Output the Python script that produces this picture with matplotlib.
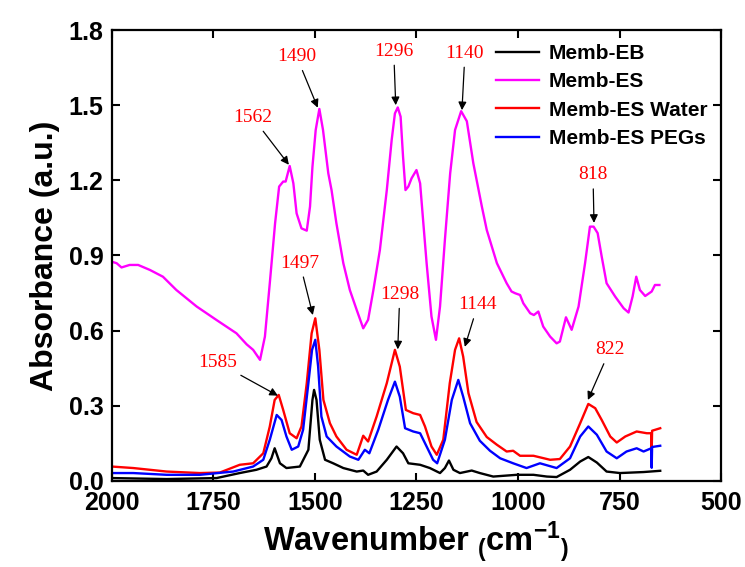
import matplotlib
matplotlib.use("Agg")
import matplotlib.pyplot as plt

# ---------------- data ----------------
wn_eb = [2000,1865,1742,1685,1644,1619,1607,1599,1586,1570,1537,1516,1506,1502,1496,1488,1475,1455,1430,1397,
         1381,1369,1348,1323,1299,1283,1270,1241,1217,1192,1180,1170,1159,1143,1114,1094,1061,1003,962,929,
         905,872,847,827,806,782,749,691,650]
ab_eb = [0.011,0.007,0.011,0.031,0.044,0.057,0.09,0.13,0.07,0.051,0.057,0.124,0.323,0.363,0.323,0.164,0.084,0.07,0.051,0.037,
         0.041,0.024,0.037,0.084,0.137,0.11,0.07,0.064,0.051,0.031,0.051,0.081,0.044,0.031,0.041,0.031,0.017,0.024,0.024,0.017,
         0.015,0.044,0.077,0.095,0.073,0.037,0.031,0.035,0.04]

wn_es = [2000,1988,1976,1956,1935,1906,1874,1841,1791,1742,1693,1668,1652,1635,1623,1611,1598,1588,1578,1572,
         1562,1553,1545,1533,1520,1512,1506,1498,1489,1480,1467,1459,1447,1430,1414,1397,1381,1369,1356,1340,
         1323,1311,1303,1296,1289,1283,1277,1270,1262,1250,1241,1233,1225,1213,1202,1192,1180,1167,1155,1140,
         1126,1110,1089,1077,1052,1028,1016,1007,995,987,970,961,950,938,921,905,897,882,868,851,
         835,823,814,804,794,782,761,740,728,718,709,700,687,671,663,652]
ab_es = [0.875,0.869,0.852,0.862,0.862,0.842,0.815,0.762,0.696,0.642,0.589,0.545,0.523,0.483,0.576,0.789,1.028,1.175,1.195,1.195,
         1.257,1.188,1.068,1.008,0.999,1.095,1.254,1.401,1.485,1.401,1.228,1.161,1.028,0.869,0.762,0.682,0.609,0.643,0.762,0.922,
         1.161,1.361,1.467,1.491,1.454,1.294,1.161,1.175,1.208,1.241,1.188,1.028,0.869,0.656,0.563,0.696,0.962,1.228,1.401,1.476,
         1.436,1.268,1.095,1.002,0.869,0.789,0.756,0.749,0.742,0.709,0.669,0.662,0.676,0.616,0.576,0.549,0.556,0.653,0.603,0.696,
         0.869,1.015,1.015,0.989,0.895,0.789,0.736,0.689,0.672,0.736,0.815,0.762,0.738,0.756,0.782,0.782]

wn_water = [2000,1947,1865,1783,1734,1685,1652,1627,1611,1599,1589,1578,1562,1545,1533,1520,1508,1499,1489,1479,
            1463,1447,1422,1397,1381,1369,1348,1323,1303,1291,1276,1258,1241,1229,1213,1200,1184,1168,1155,1145,
            1135,1122,1102,1077,1052,1028,1012,995,962,921,897,872,847,827,810,794,773,757,736,708,
            683,672,671,670,650]
ab_water = [0.057,0.051,0.037,0.031,0.033,0.064,0.070,0.11,0.217,0.323,0.343,0.283,0.19,0.170,0.217,0.39,0.589,0.649,0.523,0.323,
            0.230,0.177,0.124,0.104,0.18,0.157,0.257,0.39,0.523,0.456,0.283,0.27,0.263,0.217,0.137,0.104,0.164,0.39,0.523,0.569,
            0.496,0.35,0.235,0.175,0.144,0.117,0.12,0.1,0.1,0.084,0.087,0.137,0.23,0.307,0.29,0.243,0.177,0.153,0.177,0.197,
            0.19,0.19,0.117,0.2,0.21]

wn_peg = [2000,1947,1865,1783,1701,1652,1627,1611,1594,1582,1570,1557,1541,1529,1516,1507,1499,1492,1484,1471,
          1447,1414,1393,1377,1366,1344,1320,1303,1291,1278,1258,1241,1225,1209,1199,1180,1163,1147,1135,1118,
          1094,1069,1044,1012,979,946,905,872,847,827,806,782,757,733,708,691,672,671,670,650]
ab_peg = [0.031,0.031,0.024,0.024,0.037,0.057,0.084,0.164,0.263,0.243,0.177,0.124,0.137,0.204,0.39,0.523,0.563,0.456,0.257,0.177,
          0.137,0.097,0.084,0.124,0.11,0.204,0.323,0.396,0.336,0.21,0.197,0.19,0.137,0.084,0.07,0.164,0.323,0.403,0.336,0.23,
          0.16,0.12,0.09,0.07,0.051,0.07,0.051,0.09,0.177,0.217,0.184,0.117,0.09,0.117,0.13,0.117,0.13,0.052,0.135,0.14]

series_names = ["Memb-EB", "Memb-ES", "Memb-ES Water", "Memb-ES PEGs"]
series_colors = ["#000000", "#FF00FF", "#FF0000", "#0000FF"]

# peak annotations: label, arrow tip (wavenumber, absorbance), text offset in pixels
peak_labels = ["1562", "1490", "1296", "1140", "818", "1585", "1497", "1298", "1144", "822"]
peak_wn = [1564, 1493, 1301, 1138, 813, 1591, 1505, 1296, 1131, 828]
peak_ab = [1.262, 1.490, 1.500, 1.480, 1.030, 0.340, 0.662, 0.525, 0.535, 0.323]
text_dx = [-36, -21, -2, 3, -1, -60, -13, 2, 13, 22]
text_dy = [47, 51, 54, 57, 48, 33, 52, 55, 42, 50]

xticks = [2000, 1750, 1500, 1250, 1000, 750, 500]
yticks = [0.0, 0.3, 0.6, 0.9, 1.2, 1.5, 1.8]

# ---------------- figure ----------------
plt.rcParams['font.family'] = ['Liberation Sans', 'DejaVu Sans']
plt.rcParams['mathtext.fontset'] = 'custom'
plt.rcParams['mathtext.rm'] = 'Liberation Sans:bold'
plt.rcParams['mathtext.it'] = 'Liberation Sans:bold'
plt.rcParams['mathtext.bf'] = 'Liberation Sans:bold'

fig = plt.figure(figsize=(7.45, 5.67), dpi=100)
ax = fig.add_axes([0.150, 0.152, 0.818, 0.795])

xs = [wn_eb, wn_es, wn_water, wn_peg]
ys = [ab_eb, ab_es, ab_water, ab_peg]
for x, y, name, c in zip(xs, ys, series_names, series_colors):
    ax.plot(x, y, color=c, lw=1.7, label=name)

ax.set_xlim(2000, 500)
ax.set_ylim(0, 1.8)
ax.set_xticks(xticks)
ax.set_yticks(yticks)
ax.set_xticklabels([str(t) for t in xticks])
ax.set_yticklabels([f"{t:.1f}" for t in yticks])
ax.tick_params(direction='in', length=6, width=1.5, top=True, right=True,
               labelsize=18)
ax.tick_params(axis='x', pad=7)
ax.tick_params(axis='y', pad=6)
for lab in ax.get_xticklabels() + ax.get_yticklabels():
    lab.set_fontweight('bold')
for s in ax.spines.values():
    s.set_linewidth(1.6)

ax.set_ylabel("Absorbance (a.u.)", fontsize=23, fontweight='bold', labelpad=6)
ax.set_xlabel(r"Wavenumber $\mathregular{_{(}cm^{-1}{_)}}$", fontsize=23.5, fontweight='bold', labelpad=4)

for lab, wx, wy, dx, dy in zip(peak_labels, peak_wn, peak_ab, text_dx, text_dy):
    ax.annotate(lab, xy=(wx, wy), xytext=(dx, dy), textcoords='offset pixels',
                ha='center', va='center', color='#FF0000', fontsize=14,
                family='Liberation Serif',
                arrowprops=dict(arrowstyle='-|>', color='black', lw=0.9,
                                mutation_scale=12, shrinkA=2, shrinkB=0))

leg = ax.legend(loc='upper right', bbox_to_anchor=(0.998, 0.997), frameon=False,
                prop={'weight': 'bold', 'size': 15}, handlelength=2.1,
                handletextpad=0.45, labelspacing=0.45, borderaxespad=0.2)

fig.savefig("out.png", dpi=100)
